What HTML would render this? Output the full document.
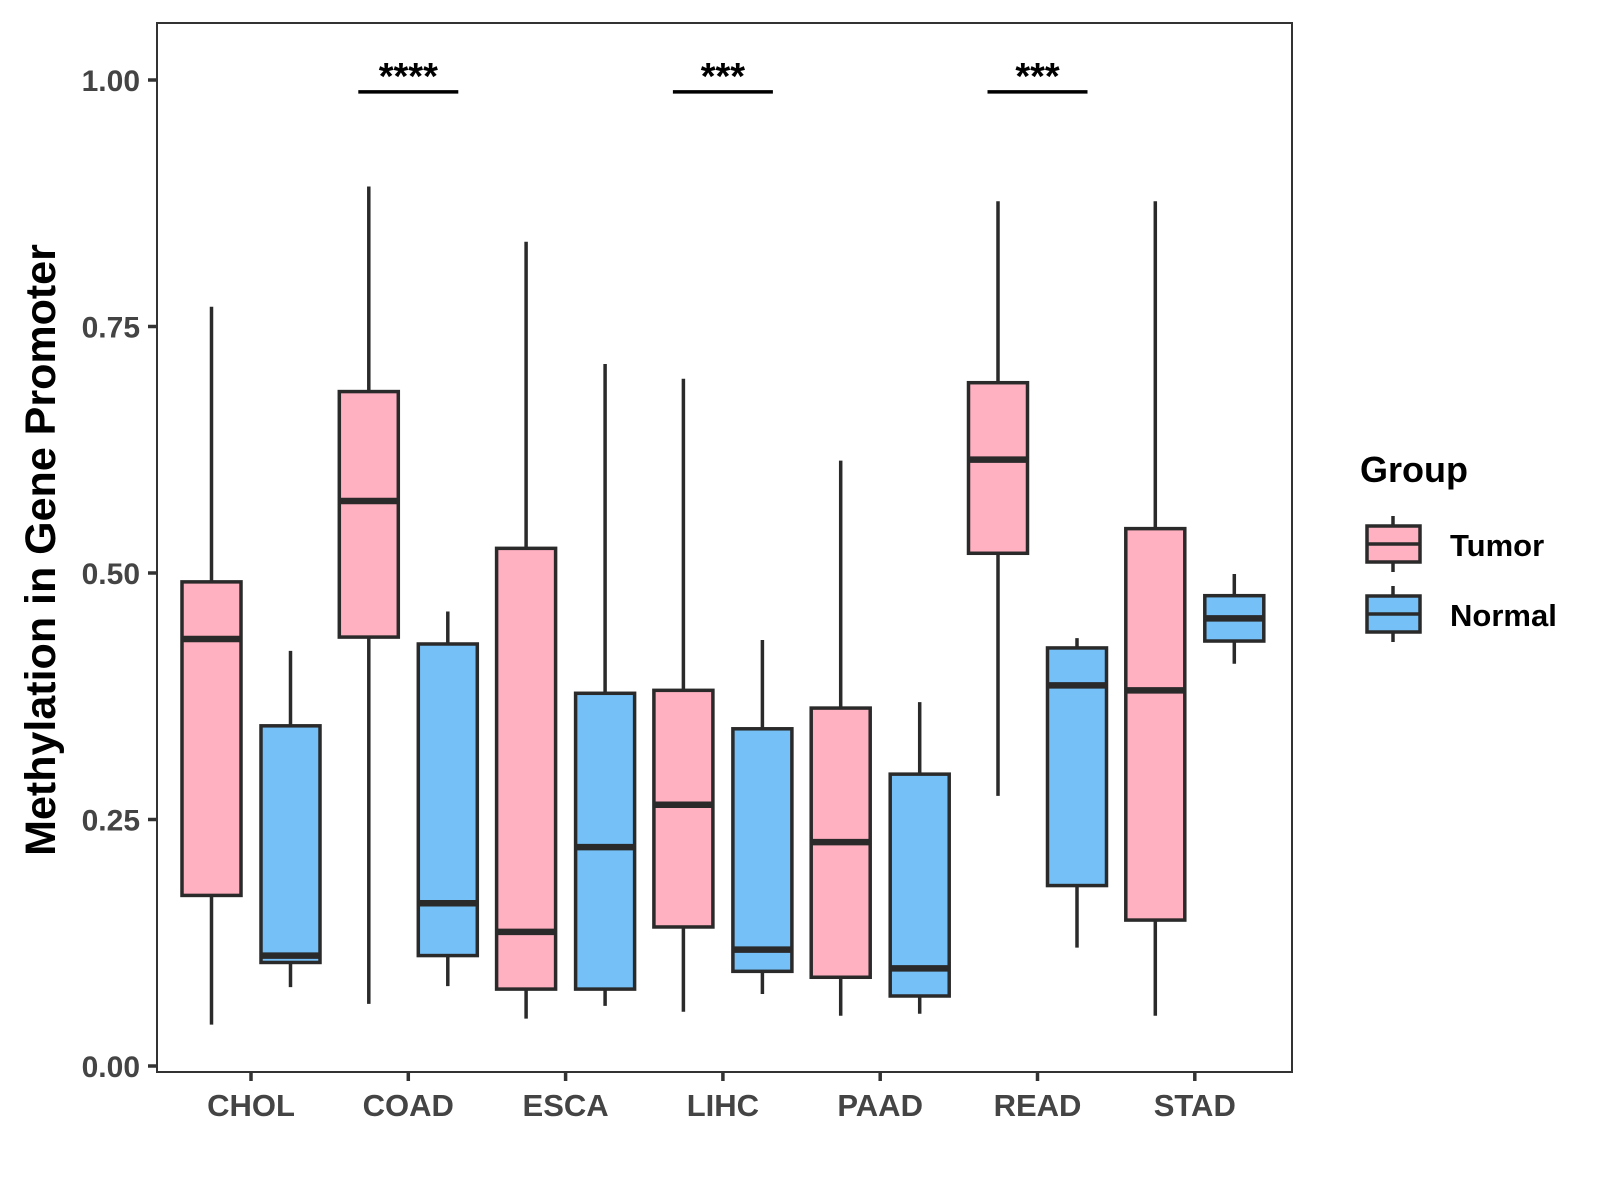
<!DOCTYPE html>
<html><head><meta charset="utf-8"><style>
html,body{margin:0;padding:0;background:#fff;}
svg{display:block;font-family:"Liberation Sans",Arial,sans-serif;}
</style></head><body>
<svg id="chart" width="1600" height="1200" viewBox="0 0 1600 1200">
<rect x="0" y="0" width="1600" height="1200" fill="#fff"/>
<g id="marks"></g>
<g id="axes"></g>
</svg>
<script>
const categories = ["CHOL","COAD","ESCA","LIHC","PAAD","READ","STAD"];
const groups = ["Tumor","Normal"];
// [lower whisker, Q1, median, Q3, upper whisker]
const tumorStats = [
 [0.042,0.173,0.433,0.491,0.770],
 [0.063,0.435,0.573,0.684,0.892],
 [0.048,0.078,0.136,0.525,0.836],
 [0.055,0.141,0.265,0.381,0.697],
 [0.051,0.090,0.227,0.363,0.614],
 [0.274,0.520,0.615,0.693,0.877],
 [0.051,0.148,0.381,0.545,0.877]
];
const normalStats = [
 [0.080,0.105,0.112,0.345,0.421],
 [0.081,0.112,0.165,0.428,0.461],
 [0.061,0.078,0.222,0.378,0.712],
 [0.073,0.096,0.118,0.342,0.432],
 [0.053,0.071,0.099,0.296,0.369],
 [0.120,0.183,0.386,0.424,0.434],
 [0.408,0.431,0.454,0.477,0.499]
];
const yTicks = [0,0.25,0.5,0.75,1.0];
const yTickLabels = ["0.00","0.25","0.50","0.75","1.00"];
const sigCategories = ["COAD","LIHC","READ"];
const sigLabels = ["****","***","***"];
const sigLevel = [0.988];

const NS="http://www.w3.org/2000/svg";
const P={l:157,r:1292,t:23,b:1072};
const Y0=1066, Y1=80;
function y(v){return Y0+(Y1-Y0)*v;}
function x(i){return 251+i*157.3;}
const off=39.5, bw=59;
const colors={Tumor:"#FFB0C1",Normal:"#75C0F7"};
const stroke="#2a2a2a";
function mk(tag,attrs,parent){const e=document.createElementNS(NS,tag);for(const k in attrs)e.setAttribute(k,attrs[k]);parent.appendChild(e);return e;}
const marks=document.getElementById('marks');
const axes=document.getElementById('axes');

mk('rect',{x:P.l,y:P.t,width:P.r-P.l,height:P.b-P.t,fill:'none',stroke:'#333','stroke-width':2},axes);

function drawBox(s,cx,col,name){
  const g=mk('g',{},marks);
  
  
  mk('line',{x1:cx,x2:cx,y1:y(s[4]),y2:y(s[0]),stroke:stroke,'stroke-width':3.5},g);
  mk('rect',{x:cx-bw/2,y:y(s[3]),width:bw,height:y(s[1])-y(s[3]),fill:col,stroke:stroke,'stroke-width':3.5},g);
  mk('line',{x1:cx-bw/2,x2:cx+bw/2,y1:y(s[2]),y2:y(s[2]),stroke:stroke,'stroke-width':6.5},g);
}
categories.forEach((c,i)=>{
  drawBox(tumorStats[i],x(i)-off,colors.Tumor,'box-'+c.toLowerCase()+'-tumor');
  drawBox(normalStats[i],x(i)+off,colors.Normal,'box-'+c.toLowerCase()+'-normal');
});
sigCategories.forEach((c,k)=>{
  const i=categories.indexOf(c);
  const l=mk('line',{x1:x(i)-50,x2:x(i)+50,y1:y(sigLevel[0]),y2:y(sigLevel[0]),stroke:'#000','stroke-width':3.5},marks);
  
  
  const t=mk('text',{x:x(i),y:y(sigLevel[0])-3,'text-anchor':'middle','font-size':38,'font-weight':'bold',fill:'#000'},marks);
  t.textContent=sigLabels[k];
  
  
});
yTicks.forEach((v,k)=>{
  const l=mk('line',{x1:P.l-9,x2:P.l,y1:y(v),y2:y(v),stroke:'#333','stroke-width':3.5},axes);
  
  
  const t=mk('text',{x:P.l-17,y:y(v)+11,'text-anchor':'end','font-size':30,'font-weight':'bold',fill:'#444'},axes);
  t.textContent=yTickLabels[k];
  
  
});
categories.forEach((c,i)=>{
  const l=mk('line',{x1:x(i),x2:x(i),y1:P.b,y2:P.b+9,stroke:'#333','stroke-width':3.5},axes);
  
  
  const t=mk('text',{x:x(i),y:1116,'text-anchor':'middle','font-size':31,'font-weight':'bold',fill:'#444'},axes);
  t.textContent=c;
  
  
});
const yt=mk('text',{x:0,y:0,transform:'translate(55,550) rotate(-90)','text-anchor':'middle','font-size':43,'font-weight':'bold',fill:'#000'},axes);
yt.textContent='Methylation in Gene Promoter';



const lt=mk('text',{x:1360,y:482,'font-size':36,'font-weight':'bold',fill:'#000'},axes);
lt.textContent='Group';


groups.forEach((gname,k)=>{
  const top=526+k*70, h=36, cx=1393;
  const g=mk('g',{},axes);
  
  
  mk('line',{x1:cx,x2:cx,y1:top-10,y2:top+h+10,stroke:stroke,'stroke-width':3.5},g);
  mk('rect',{x:1367,y:top,width:53,height:h,fill:colors[gname],stroke:stroke,'stroke-width':3.5},g);
  mk('line',{x1:1367,x2:1420,y1:top+h/2,y2:top+h/2,stroke:stroke,'stroke-width':3.5},g);
  const t=mk('text',{x:1450,y:top+30,'font-size':31,'font-weight':'bold',fill:'#000'},g);
  t.textContent=gname;
});
</script>
</body></html>
